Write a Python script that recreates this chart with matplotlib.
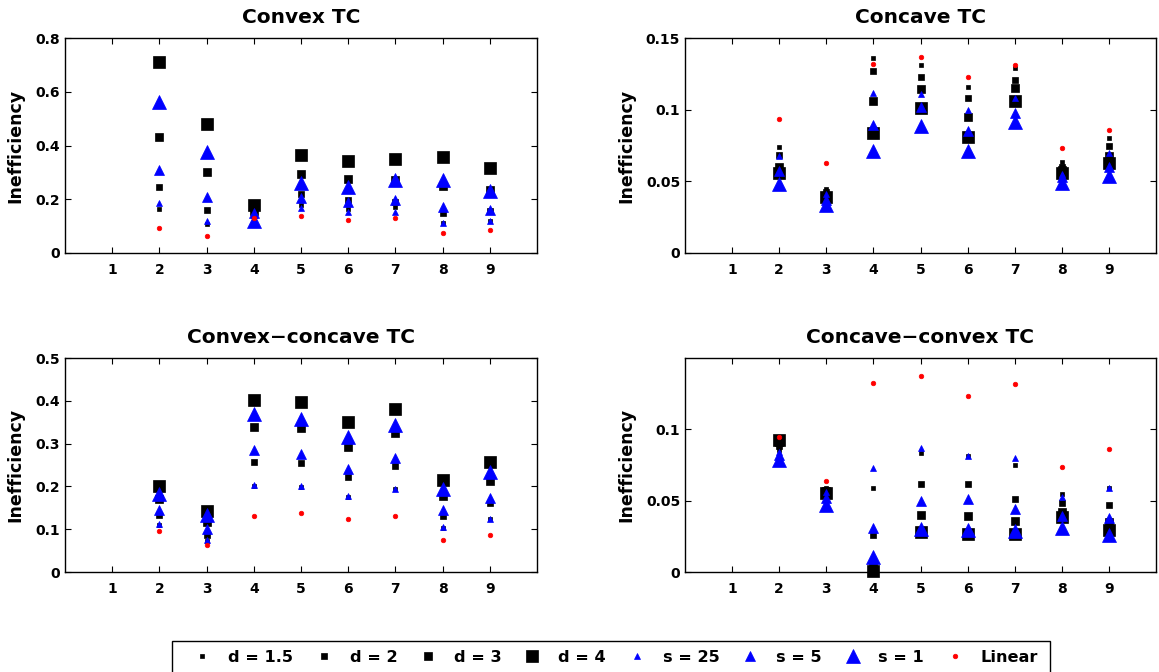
import matplotlib
matplotlib.use("Agg")
import matplotlib.pyplot as plt
from matplotlib.ticker import FixedLocator, FuncFormatter
from matplotlib.patches import Rectangle

plt.rcParams['font.family'] = ['DejaVu Sans']
plt.rcParams['font.weight'] = 'bold'

x = [2, 3, 4, 5, 6, 7, 8, 9]
series_names = ["d = 1.5", "d = 2", "d = 3", "d = 4", "s = 25", "s = 5", "s = 1", "Linear"]

# Convex TC
convex = {
    "d = 1.5": [0.163, 0.108, 0.140, 0.179, 0.163, 0.170, 0.110, 0.119],
    "d = 2":   [0.244, 0.159, 0.145, 0.220, 0.198, 0.190, 0.150, 0.158],
    "d = 3":   [0.430, 0.303, 0.155, 0.294, 0.275, 0.270, 0.248, 0.236],
    "d = 4":   [0.712, 0.481, 0.180, 0.363, 0.341, 0.351, 0.359, 0.318],
    "s = 25":  [0.186, 0.120, 0.140, 0.166, 0.154, 0.154, 0.113, 0.120],
    "s = 5":   [0.310, 0.208, 0.150, 0.204, 0.190, 0.198, 0.173, 0.160],
    "s = 1":   [0.560, 0.375, 0.118, 0.260, 0.244, 0.273, 0.273, 0.231],
    "Linear":  [0.093, 0.063, 0.132, 0.136, 0.121, 0.130, 0.073, 0.085],
}

# Concave TC
concave = {
    "d = 1.5": [0.0737, 0.0446, 0.1358, 0.1310, 0.1160, 0.1290, 0.0637, 0.0800],
    "d = 2":   [0.0684, 0.0427, 0.1270, 0.1225, 0.1080, 0.1210, 0.0600, 0.0747],
    "d = 3":   [0.0600, 0.0400, 0.1060, 0.1143, 0.0950, 0.1150, 0.0580, 0.0680],
    "d = 4":   [0.0560, 0.0390, 0.0840, 0.1010, 0.0807, 0.1060, 0.0555, 0.0625],
    "s = 25":  [0.0680, 0.0415, 0.1115, 0.1110, 0.0999, 0.1080, 0.0550, 0.0695],
    "s = 5":   [0.0570, 0.0370, 0.0890, 0.1017, 0.0850, 0.0975, 0.0530, 0.0600],
    "s = 1":   [0.0480, 0.0334, 0.0710, 0.0887, 0.0712, 0.0912, 0.0485, 0.0540],
    "Linear":  [0.0938, 0.0630, 0.1320, 0.1370, 0.1227, 0.1310, 0.0733, 0.0857],
}

# Convex-concave TC
convex_concave = {
    "d = 1.5": [0.110, 0.073, 0.202, 0.198, 0.175, 0.194, 0.103, 0.124],
    "d = 2":   [0.134, 0.087, 0.257, 0.255, 0.223, 0.248, 0.132, 0.161],
    "d = 3":   [0.170, 0.116, 0.339, 0.336, 0.293, 0.325, 0.177, 0.213],
    "d = 4":   [0.200, 0.143, 0.402, 0.398, 0.351, 0.381, 0.214, 0.258],
    "s = 25":  [0.112, 0.074, 0.204, 0.200, 0.177, 0.195, 0.104, 0.125],
    "s = 5":   [0.146, 0.100, 0.286, 0.276, 0.241, 0.266, 0.144, 0.174],
    "s = 1":   [0.183, 0.134, 0.370, 0.357, 0.315, 0.343, 0.194, 0.233],
    "Linear":  [0.095, 0.064, 0.132, 0.138, 0.123, 0.132, 0.074, 0.086],
}

# Concave-convex TC
concave_convex = {
    "d = 1.5": [0.0850, 0.0587, 0.0585, 0.0832, 0.0810, 0.0750, 0.0548, 0.0590],
    "d = 2":   [0.0880, 0.0576, 0.0261, 0.0613, 0.0613, 0.0510, 0.0483, 0.0466],
    "d = 3":   [0.0910, 0.0564, 0.0040, 0.0401, 0.0389, 0.0359, 0.0417, 0.0347],
    "d = 4":   [0.0925, 0.0552, 0.0010, 0.0277, 0.0266, 0.0268, 0.0385, 0.0296],
    "s = 25":  [0.0840, 0.0560, 0.0727, 0.0867, 0.0814, 0.0797, 0.0524, 0.0585],
    "s = 5":   [0.0815, 0.0517, 0.0308, 0.0499, 0.0510, 0.0440, 0.0390, 0.0378],
    "s = 1":   [0.0786, 0.0466, 0.0105, 0.0303, 0.0296, 0.0284, 0.0308, 0.0261],
    "Linear":  [0.0942, 0.0634, 0.1320, 0.1373, 0.1233, 0.1317, 0.0737, 0.0860],
}

titles = ["Convex TC", "Concave TC", "Convex\u2212concave TC", "Concave\u2212convex TC"]
datasets = [convex, concave, convex_concave, concave_convex]
ylims = [(0, 0.8), (0, 0.15), (0, 0.5), (0, 0.1497)]
yticks = [[0, 0.2, 0.4, 0.6, 0.8], [0, 0.05, 0.1, 0.15],
          [0, 0.1, 0.2, 0.3, 0.4, 0.5], [0, 0.05, 0.1]]

styles = {
    "d = 1.5": dict(marker='s', color='black', ms=2.9),
    "d = 2":   dict(marker='s', color='black', ms=4.3),
    "d = 3":   dict(marker='s', color='black', ms=6.4),
    "d = 4":   dict(marker='s', color='black', ms=8.6),
    "s = 25":  dict(marker='^', color='blue', ms=4.3),
    "s = 5":   dict(marker='^', color='blue', ms=6.5),
    "s = 1":   dict(marker='^', color='blue', ms=9.4),
    "Linear":  dict(marker='o', color='red', ms=3.3),
}

W, H = 1159, 672
fig = plt.figure(figsize=(W / 100, H / 100), dpi=100)

boxes = [
    (65, 38, 537, 253),
    (685, 38, 1156, 253),
    (65, 358, 537, 572),
    (685, 358, 1156, 572),
]

handles = []
for i, (box, data) in enumerate(zip(boxes, datasets)):
    l, t, r, b = box
    ax = fig.add_axes([l / W, 1 - b / H, (r - l) / W, (b - t) / H])
    hs = []
    for name in series_names:
        st = styles[name]
        h, = ax.plot(x, data[name], linestyle='none', marker=st['marker'],
                     markersize=st['ms'], markerfacecolor=st['color'],
                     markeredgecolor=st['color'], markeredgewidth=0.5,
                     clip_on=False)
        hs.append(h)
    if i == 0:
        handles = hs
    ax.set_xlim(0, 10)
    ax.set_ylim(*ylims[i])
    ax.set_xticks(range(1, 10))
    ax.yaxis.set_major_locator(FixedLocator(yticks[i]))
    ax.yaxis.set_major_formatter(FuncFormatter(lambda v, p: '%g' % v))
    ax.tick_params(direction='in', top=True, right=True, length=4, width=0.8,
                   labelsize=10)
    ax.tick_params(axis='x', pad=7)
    ax.tick_params(axis='y', pad=3.5)
    for lab in ax.get_xticklabels() + ax.get_yticklabels():
        lab.set_fontweight('bold')
    for sp in ax.spines.values():
        sp.set_linewidth(1.0)
    ax.set_title(titles[i], fontsize=14.5, fontweight='bold', pad=10.5)
    ax.set_ylabel("Inefficiency", fontsize=12.5, fontweight='bold')
    lr = 24 if i % 2 == 0 else 635
    ax.yaxis.set_label_coords((lr - l) / (r - l), 0.5)

fs_leg = 11.6
leg = fig.legend(handles, series_names, loc='center left', ncol=8,
                 bbox_to_anchor=(194 / W, 1 - 657.5 / H), frameon=False,
                 prop={'weight': 'bold', 'size': fs_leg},
                 handletextpad=1.1, columnspacing=1.42, borderpad=0,
                 borderaxespad=0, handlelength=1.0)

fig.patches.append(Rectangle((172 / W, 1 - 700 / H), (1050 - 172) / W, (700 - 641) / H,
                             transform=fig.transFigure, fill=False,
                             edgecolor='black', linewidth=1.0))

fig.savefig("out.png", dpi=100)
